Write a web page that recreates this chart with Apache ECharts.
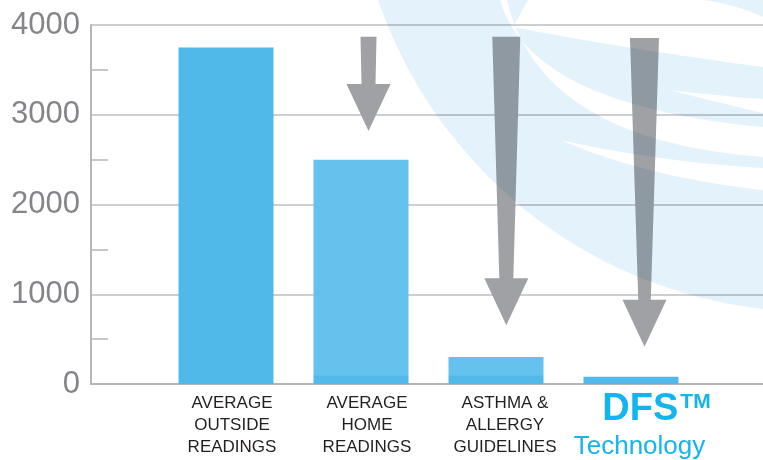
<!DOCTYPE html>
<html><head><meta charset="utf-8">
<script src="https://cdn.jsdelivr.net/npm/echarts@6/dist/echarts.min.js"></script>
<style>html,body{margin:0;padding:0;background:#fff;overflow:hidden}#c{width:763px;height:460px;position:relative}</style>
</head><body><div id="c"></div>
<script>
// ---- data ----
const categories = ['AVERAGE\nOUTSIDE\nREADINGS', 'AVERAGE\nHOME\nREADINGS', 'ASTHMA &\nALLERGY\nGUIDELINES', 'DFS™\nTechnology'];
const values = [3750, 2500, 300, 80];
const yTicks = [0, 1000, 2000, 3000, 4000];
const arrowCategory = [1, 2, 3];      // which category each arrow points at
const arrowFrom = [3870, 3870, 3855]; // arrow tail value
const arrowTo = [2820, 655, 415];     // arrow tip value

// ---- styles ----
const ARROW_DX = [7.5, 10.3, 13.5];
const ARROW_SHAFT = [[16, 14], [28, 14], [29, 12.5]];
const HEAD_W = 44, HEAD_H = 47;

// decorative watermark helpers
function quad(p0, c, p1, n) {
  const out = [];
  for (let k = 0; k <= (n || 30); k++) {
    const t = k / (n || 30), u = 1 - t;
    out.push([u * u * p0[0] + 2 * u * t * c[0] + t * t * p1[0], u * u * p0[1] + 2 * u * t * c[1] + t * t * p1[1]]);
  }
  return out;
}
const BLUE_WM = '#e4f2fb';
const wmShapes = [
  [[528, 0]].concat(quad([703, 0], [735, 4], [763, 17]), quad([763, 67], [620, 48], [513, 27])),
  quad([500, 0], [530, 105], [763, 127]).concat(quad([763, 157], [540, 140], [507, 0])),
  quad([560, 140], [660, 162], [763, 168]).concat(quad([763, 190], [650, 178], [560, 140])),
  quad([670, 90], [720, 96], [763, 99]).concat(quad([763, 113], [720, 103], [670, 90]))
];
const wmElements = [{ type: 'circle', zlevel: 1, z: 1, silent: true, shape: { cx: 815, cy: -150, r: 462 }, style: { fill: BLUE_WM } }]
  .concat(wmShapes.map(p => ({ type: 'polygon', zlevel: 1, z: 2, silent: true, shape: { points: p }, style: { fill: '#ffffff' } })));

const axisData = [''].concat(categories, ['']);
const barData = ['-'].concat(values.map((v, i) => {
  const light = (i === 1 || i === 2);
  return {
    value: v,
    itemStyle: {
      color: light
        ? { type: 'linear', x: 0, y: 375, x2: 0, y2: 376.5, global: true,
            colorStops: [{ offset: 0, color: '#64c2ec' }, { offset: 1, color: '#52baea' }] }
        : '#50b9ea'
    }
  };
}), ['-']);

const chart = echarts.init(document.getElementById('c'), null, { renderer: 'canvas' });
chart.setOption({
  animation: false,
  backgroundColor: '#ffffff',
  grid: { left: 91, width: 675, top: 25, bottom: 76, containLabel: false, outerBoundsMode: 'none' },
  graphic: { elements: wmElements },
  xAxis: {
    type: 'category',
    data: axisData,
    boundaryGap: false,
    axisLine: { show: true, lineStyle: { color: '#b5b5b7', width: 2 } },
    axisTick: { show: false },
    splitLine: { show: false },
    axisLabel: {
      interval: 0,
      margin: 8,
      align: 'center',
      verticalAlign: 'top',
      formatter: function (val, idx) {
        if (!val) return '';
        const lines = val.split('\n');
        if (val.indexOf('DFS') === 0) {
          return '{dfs|DFS}{tm|TM}\n{tech|' + lines[1] + '}';
        }
        const key = idx >= 3 ? 'b' : 'a';
        return lines.map(l => '{' + key + '|' + l + '}').join('\n');
      },
      rich: {
        a: { fontFamily: 'Liberation Sans', fontSize: 17, lineHeight: 22, color: '#231f20', padding: [0, 0, 0, 12] },
        b: { fontFamily: 'Liberation Sans', fontSize: 17, lineHeight: 22, color: '#231f20', padding: [0, 0, 0, 18] },
        dfs: { fontFamily: 'Liberation Sans', fontSize: 38, fontWeight: 'bold', lineHeight: 36, color: '#13b5ef', padding: [0, 0, 0, 51] },
        tm: { fontFamily: 'Liberation Sans', fontSize: 21, fontWeight: 'bold', lineHeight: 28, verticalAlign: 'top', color: '#13b5ef', padding: [0, 0, 0, 2] },
        tech: { fontFamily: 'Liberation Sans', fontSize: 26, lineHeight: 38, color: '#13b5ef', padding: [0, 0, 0, 17] }
      }
    }
  },
  yAxis: {
    type: 'value',
    min: yTicks[0],
    max: yTicks[yTicks.length - 1],
    interval: yTicks[1] - yTicks[0],
    axisLine: { show: true, lineStyle: { color: '#b5b5b7', width: 2 } },
    axisTick: { show: false, inside: true },
    minorTick: { show: true, splitNumber: 2, length: 17, lineStyle: { color: '#b5b5b7', width: 1.5 } },
    splitLine: { show: true, lineStyle: { color: '#bdbec0', width: 1.5 } },
    axisLabel: {
      margin: 11,
      padding: [7, 0, 0, 0],
      fontFamily: 'Liberation Sans',
      fontSize: 31,
      color: '#848588',
      formatter: function (v) { return yTicks.indexOf(v) >= 0 ? String(v) : ''; }
    }
  },
  series: [
    {
      type: 'bar',
      data: barData,
      barWidth: 95,
      z: 3
    },
    {
      type: 'custom',
      z: 5,
      encode: { x: 0, y: [1, 2] },
      data: arrowCategory.map((c, i) => [c + 1, arrowFrom[i], arrowTo[i]]),
      renderItem: function (params, api) {
        const i = params.dataIndex;
        const top = api.coord([api.value(0), api.value(1)]);
        const tip = api.coord([api.value(0), api.value(2)]);
        const cx = top[0] + ARROW_DX[i];
        const wT = ARROW_SHAFT[i][0], wB = ARROW_SHAFT[i][1];
        const baseY = tip[1] - HEAD_H;
        const pts = [
          [cx - wT / 2, top[1]], [cx + wT / 2, top[1]],
          [cx + wB / 2, baseY], [cx + HEAD_W / 2, baseY],
          [cx, tip[1]],
          [cx - HEAD_W / 2, baseY], [cx - wB / 2, baseY]
        ];
        return { type: 'polygon', shape: { points: pts }, style: { fill: '#a0a1a4' } };
      }
    }
  ]
});
// watermark layer multiplies onto the chart beneath it
try {
  const layer = chart.getZr().painter.getLayer(1);
  if (layer && layer.dom) layer.dom.style.mixBlendMode = 'multiply';
} catch (e) {}
</script>
</body></html>
